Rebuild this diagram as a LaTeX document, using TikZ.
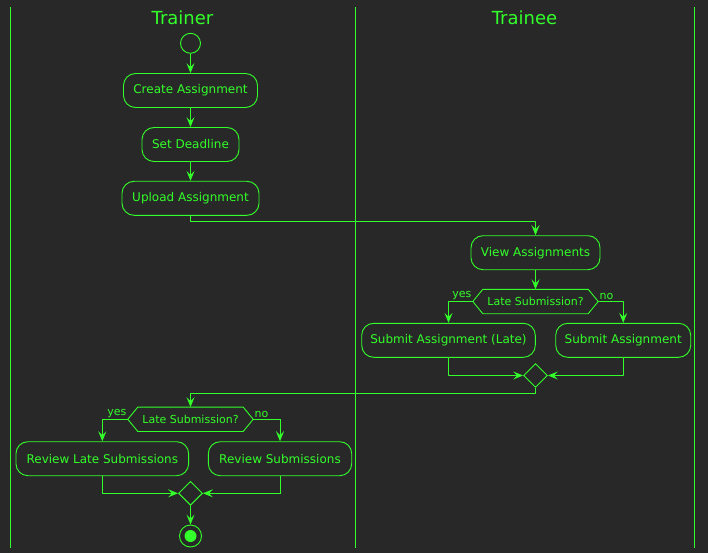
\documentclass[tikz,border=0pt]{standalone}
\usepackage{fontspec}
\setmainfont{DejaVu Sans}
\usetikzlibrary{arrows.meta,shapes.geometric}
\definecolor{bgdark}{HTML}{282828}
\definecolor{lime}{HTML}{33FF2A}
\tikzset{
  flow/.style={draw=lime, line width=0.9pt, -{Stealth[length=10pt,width=8pt,inset=4pt]}},
  act/.style={draw=lime, line width=0.9pt, rounded corners=12pt, inner sep=0pt, minimum height=34pt, text=lime, font=\fontsize{12}{14}\selectfont},
  dec/.style={inner sep=0pt, minimum width=125pt, minimum height=24pt, text=lime, font=\fontsize{11}{13}\selectfont},
  mrg/.style={diamond, draw=lime, line width=0.9pt, inner sep=0pt, minimum width=24pt, minimum height=24pt},
  lbl/.style={text=lime, inner sep=1pt, font=\fontsize{11}{13}\selectfont},
}
\newcommand{\hexa}[1]{\draw[lime, line width=0.9pt] (#1.west) -- ([xshift=10pt]#1.north west) -- ([xshift=-10pt]#1.north east) -- (#1.east) -- ([xshift=-10pt]#1.south east) -- ([xshift=10pt]#1.south west) -- cycle;}
\begin{document}
\begin{tikzpicture}[x=1pt, y=-1pt]
  \fill[bgdark] (0,0) rectangle (708,553);
  \useasboundingbox (0,0) rectangle (708,553);
  \draw[lime, line width=0.9pt] (10.5,7) -- (10.5,548);
  \draw[lime, line width=0.9pt] (355.5,7) -- (355.5,548);
  \draw[lime, line width=0.9pt] (694,7) -- (694,548);
  \node[text=lime, font=\fontsize{18}{20}\selectfont] (lane1) at (182.5,17.5) {Trainer};
  \node[text=lime, font=\fontsize{18}{20}\selectfont] (lane2) at (524.5,17.5) {Trainee};

  \node[circle, draw=lime, line width=0.9pt, minimum size=20pt, inner sep=0pt] (start) at (190.5,43.3) {};
  \node[act, minimum width=134pt] (create) at (190.5,90.5) {Create Assignment};
  \node[act, minimum width=97pt] (deadline) at (190.5,144.5) {Set Deadline};
  \node[act, minimum width=137pt] (upload) at (190.5,198.3) {Upload Assignment};
  \node[act, minimum width=129pt] (view) at (535.5,252.7) {View Assignments};
  \node[dec] (late1) at (535.5,301.5) {Late Submission?};
  \hexa{late1}
  \node[act, minimum width=173.6pt] (submitlate) at (448.5,340.3) {Submit Assignment (Late)};
  \node[act, minimum width=135pt] (submit) at (623.2,340.3) {Submit Assignment};
  \node[mrg] (merge1) at (535.5,375.5) {};
  \node[dec] (late2) at (190.5,419.3) {Late Submission?};
  \hexa{late2}
  \node[act, minimum width=172.7pt] (reviewlate) at (102.3,458.7) {Review Late Submissions};
  \node[act, minimum width=143.4pt] (review) at (280,458.7) {Review Submissions};
  \node[mrg] (merge2) at (190.5,493.3) {};
  \node[circle, draw=lime, line width=0.9pt, minimum size=22pt, inner sep=0pt] (stop) at (190.5,536) {};
  \fill[lime] (stop.center) circle (6);

  \draw[flow] (start) -- (create);
  \draw[flow] (create) -- (deadline);
  \draw[flow] (deadline) -- (upload);
  \draw[flow] (upload.south) -- ++(0,5.3) -| (view.north);
  \draw[flow] (view) -- (late1);
  \draw[flow] (late1.west) node[lbl, anchor=south east] {yes} -| (submitlate.north);
  \draw[flow] (late1.east) node[lbl, anchor=south west] {no} -| (submit.north);
  \draw[flow] (submitlate.south) |- (merge1.west);
  \draw[flow] (submit.south) |- (merge1.east);
  \draw[flow] (merge1.south) -- ++(0,5) -| (late2.north);
  \draw[flow] (late2.west) node[lbl, anchor=south east] {yes} -| (reviewlate.north);
  \draw[flow] (late2.east) node[lbl, anchor=south west] {no} -| (review.north);
  \draw[flow] (reviewlate.south) |- (merge2.west);
  \draw[flow] (review.south) |- (merge2.east);
  \draw[flow] (merge2) -- (stop);
\end{tikzpicture}
\end{document}
